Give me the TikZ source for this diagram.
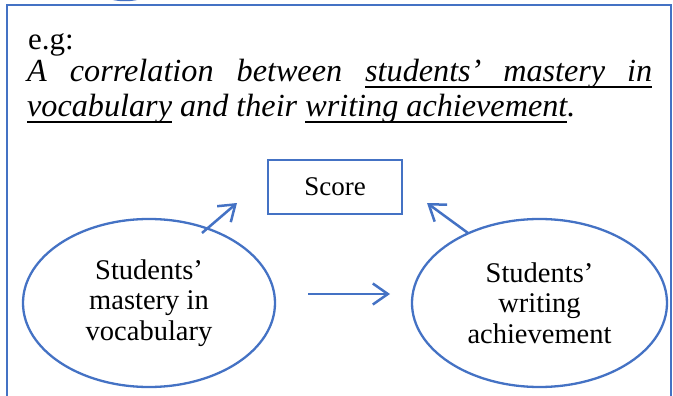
\documentclass[tikz,border=0pt]{standalone}
\usepackage{fontspec}
\setmainfont{Liberation Serif}[ItalicFont={Liberation Serif Italic}]
\newsavebox{\ulbox}
\newcommand{\myul}[1]{\sbox{\ulbox}{#1}\rlap{\rule[-6.2pt]{\wd\ulbox}{1.7pt}}\usebox{\ulbox}}
\usetikzlibrary{arrows.meta,shapes.geometric}
\definecolor{wblue}{HTML}{4472C4}
\tikzset{
  frameline/.style={wblue, line width=2.6pt},
  txt/.style={anchor=base west, inner sep=0pt, text=black},
  ell/.style={ellipse, draw=wblue, line width=2.3pt, align=center, inner sep=0pt,
    font=\fontsize{28.5}{30.5}\selectfont},
  scorebox/.style={rectangle, draw=wblue, line width=2pt, inner sep=0pt,
    minimum width=134pt, minimum height=54pt, font=\fontsize{27}{30}\selectfont},
  arr/.style={wblue, line width=2.5pt, -{Straight Barb[length=15pt,width=21pt]}}
}
\begin{document}
\begin{tikzpicture}[x=1pt,y=-1pt]
\useasboundingbox (0,0) rectangle (673,396);
\clip (0,0) rectangle (673,396);
% frame
\draw[frameline] (7,420) -- (7,5) -- (671,5) -- (671,420);
\draw[wblue, line width=2.5pt] (125,-15) ellipse [x radius=30pt, y radius=15pt];
% text
\node[txt, font=\fontsize{31}{34}\selectfont] (eg) at (28,50) {e.g:};
\node[txt, font=\itshape\fontsize{32.2}{34}\selectfont] (l2) at (27,82)
  {\hbox to 625pt{A\hfill correlation\hfill between\hfill\myul{\hbox to 287pt{students'\hfill mastery\hfill in}}}};
\node[txt, font=\itshape\fontsize{32.2}{34}\selectfont] (l3) at (27,117)
  {\myul{vocabulary} and their \myul{writing achievement}.};
% diagram
\node[scorebox] (score) at (335,187) {Score};
\node[ell, minimum width=252pt, minimum height=168pt] (L) at (149,303)
  {Students'\\mastery in\\vocabulary};
\node[ell, minimum width=255pt, minimum height=168pt] (R) at (539.5,303)
  {Students'\\writing\\achievement};
\coordinate (la) at (202,233);
\coordinate (lb) at (237,203);
\coordinate (ra) at (468,233);
\coordinate (rb) at (427,203);
\coordinate (ma) at (308,294);
\coordinate (mb) at (390,294);
\draw[arr] (la) -- (lb);
\draw[arr] (ra) -- (rb);
\draw[arr] (ma) -- (mb);
\end{tikzpicture}
\end{document}
